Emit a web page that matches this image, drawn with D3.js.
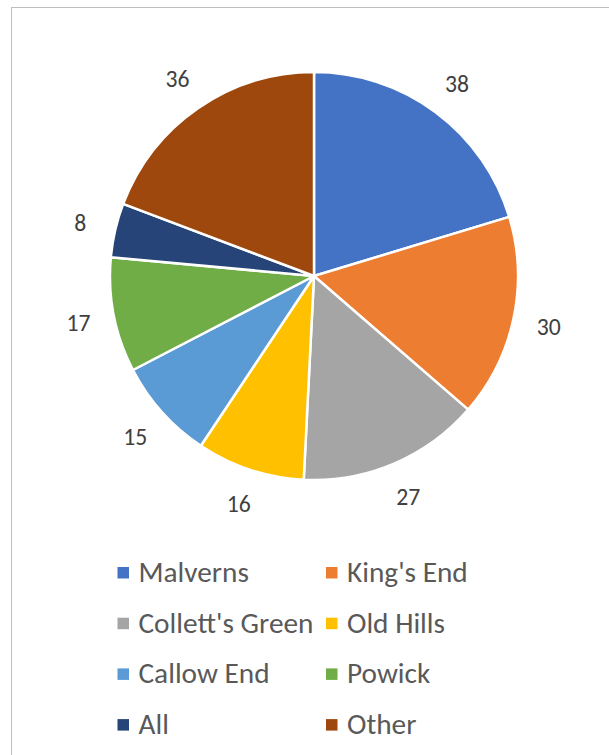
<!DOCTYPE html>
<html>
<head>
<meta charset="utf-8">
<script src="https://cdn.jsdelivr.net/npm/d3@7"></script>
<style>
  html, body { margin: 0; padding: 0; background: #fff; }
  svg { display: block; }
  text { font-family: Carlito, Lato, "Open Sans", sans-serif; }
</style>
</head>
<body>
<svg id="chart" width="609" height="755"></svg>
<script>
// Areas and their counts
const categories = ["Malverns", "King's End", "Collett's Green", "Old Hills", "Callow End", "Powick", "All", "Other"];
const values = [38, 30, 27, 16, 15, 17, 8, 36];
const colors = ["#4472C4", "#ED7D31", "#A5A5A5", "#FFC000", "#5B9BD5", "#70AD47", "#264478", "#9E480E"];

const W = 609, H = 755;
const cx = 314, cy = 276, radius = 204, labelRadius = 240;

const svg = d3.select("#chart");

// Pick a font size that gives a sample string the wanted width
function fitSize(sample, targetWidth) {
  const t = svg.append("text").attr("font-size", 20).text(sample);
  const w = t.node().getComputedTextLength();
  t.remove();
  return 20 * targetWidth / w;
}
const valueFont = fitSize("27", 24);
const legendFont = fitSize("Collett's Green", 175);

// Chart area frame
svg.append("rect")
  .attr("x", 11.5).attr("y", 7.5)
  .attr("width", 800).attr("height", 900)
  .attr("fill", "none")
  .attr("stroke", "#BFBFBF")
  .attr("stroke-width", 1);

const data = categories.map((c, i) => ({ name: c, value: values[i], color: colors[i] }));

const pie = d3.pie().value(d => d.value).sort(null);
const arcs = pie(data);

const arc = d3.arc().innerRadius(0).outerRadius(radius);
const labelArc = d3.arc().innerRadius(labelRadius).outerRadius(labelRadius);

const g = svg.append("g").attr("transform", `translate(${cx},${cy})`);

g.selectAll("path.slice")
  .data(arcs)
  .join("path")
  .attr("class", "slice")
  .attr("d", arc)
  .attr("fill", d => d.data.color)
  .attr("stroke", "#fff")
  .attr("stroke-width", 2.5)
  .attr("stroke-linejoin", "round");

g.selectAll("text.value")
  .data(arcs)
  .join("text")
  .attr("class", "value")
  .attr("transform", d => `translate(${labelArc.centroid(d)})`)
  .attr("text-anchor", "middle")
  .attr("dominant-baseline", "central")
  .attr("font-size", valueFont)
  .attr("fill", "#404040")
  .text(d => d.data.value);

// Legend: two columns, four rows
const colX = [117.5, 326];
const rowY0 = 572, rowStep = 50.7;
const legend = svg.append("g");
const items = legend.selectAll("g.item")
  .data(data)
  .join("g")
  .attr("class", "item")
  .attr("transform", (d, i) => `translate(${colX[i % 2]},${rowY0 + Math.floor(i / 2) * rowStep})`);

items.append("rect")
  .attr("x", 0).attr("y", -5)
  .attr("width", 11.5).attr("height", 11.5)
  .attr("fill", d => d.color);

items.append("text")
  .attr("x", 21).attr("y", 0)
  .attr("dominant-baseline", "central")
  .attr("font-size", legendFont)
  .attr("fill", "#595959")
  .text(d => d.name);
</script>
</body>
</html>
